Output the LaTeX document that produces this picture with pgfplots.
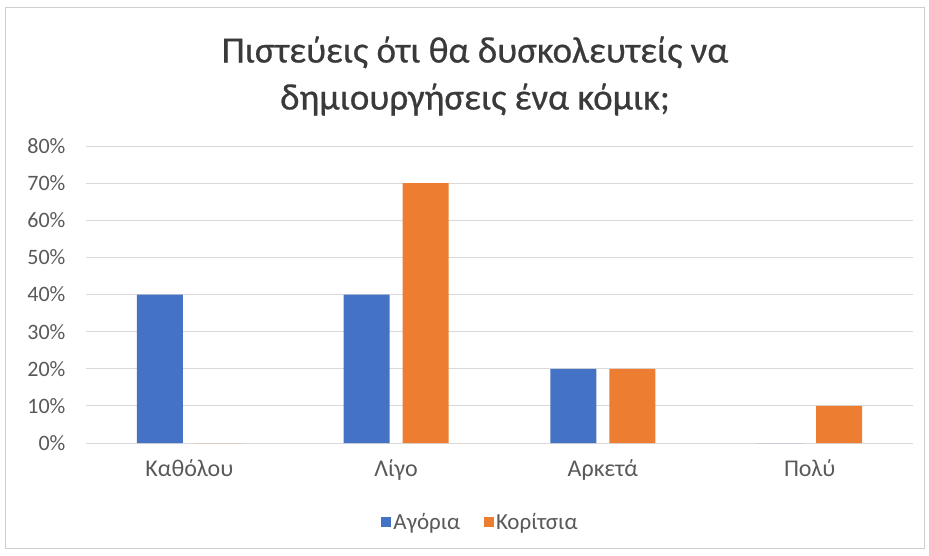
\documentclass[border=0pt]{standalone}
\usepackage{pgfplots}
\pgfplotsset{compat=1.18}
\usepackage{fontspec}
\setmainfont{Carlito}
\newfontfamily\titlefont[FakeBold=0.6]{Carlito}
\definecolor{txt}{HTML}{595959}
\definecolor{ttl}{HTML}{3A3A3A}
\definecolor{grid}{HTML}{D9D9D9}
\definecolor{boys}{HTML}{4472C4}
\definecolor{girls}{HTML}{ED7D31}
\begin{document}
\begin{tikzpicture}[x=1pt,y=1pt]
\useasboundingbox (0,0) rectangle (929,555);
\draw[color=grid!80!black!60, line width=1pt] (5,7) rectangle (924,547);
\node[font=\titlefont\fontsize{37}{47}\selectfont, text=ttl, align=center] at (475,479)
  {Πιστεύεις ότι θα δυσκολευτείς να\\δημιουργήσεις ένα κόμικ;};
\begin{axis}[
  at={(86pt,112pt)}, anchor=south west,
  scale only axis, width=827pt, height=297pt,
  ybar=13pt, bar width=46pt,
  xmin=-0.5, xmax=3.5, ymin=0, ymax=80,
  xtick={0,1,2,3},
  xticklabels={Καθόλου,Λίγο,Αρκετά,Πολύ},
  ytick={0,10,...,80},
  yticklabel={\pgfmathprintnumber{\tick}\%},
  /pgf/number format/assume math mode=true,
  axis line style={draw=none},
  major tick length=0pt,
  ymajorgrids, grid style={color=grid, line width=1pt},
  axis x line*=bottom,
  x axis line style={draw=grid, line width=1pt},
  ticklabel style={text=txt},
  xticklabel style={font=\fontsize{24}{28}\selectfont, yshift=-13pt},
  yticklabel style={font=\fontsize{22}{26}\selectfont, xshift=-17pt},
  legend style={at={(0.5,0)}, anchor=center, xshift=-19pt, yshift=-79pt, draw=none,
    font=\fontsize{23}{27}\selectfont, text=txt, /tikz/every even column/.append style={column sep=22pt}},
  legend columns=2,
  legend image code/.code={\fill[#1] (0pt,-5pt) rectangle (10pt,5pt);},
]
\addplot[fill=boys, draw=none] coordinates {(0,40) (1,40) (2,20) (3,0)};
\addplot[fill=girls, draw=none] coordinates {(0,0) (1,70) (2,20) (3,10)};
\legend{Αγόρια,Κορίτσια}
\end{axis}
\end{tikzpicture}
\end{document}
